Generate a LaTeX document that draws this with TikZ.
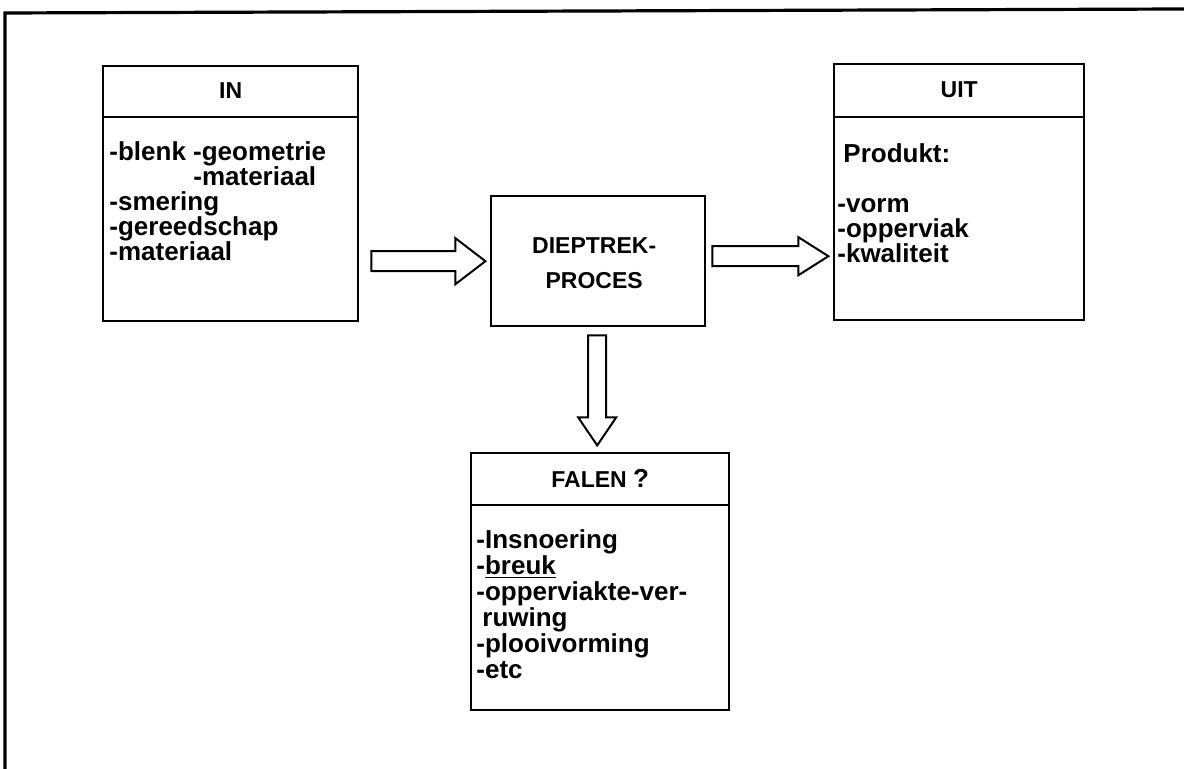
\documentclass[tikz,border=0pt]{standalone}
\usepackage{fontspec}
\setmainfont{Liberation Sans}
\usetikzlibrary{positioning,calc}

\begin{document}
\begin{tikzpicture}[x=0.5pt,y=-0.5pt,
	box/.style={draw, line width=1.2pt, inner sep=0pt, anchor=north west},
	head/.style={font=\fontsize{11.5}{13}\selectfont\bfseries},
	body/.style={font=\fontsize{13}{12.5}\selectfont\bfseries, align=left, anchor=north west, inner sep=0pt}]
	\newcommand\RArrow[2]{+(0,-10) -- +(#1,-10) -- +(#1,-#2) -- +(#1+30,0) -- +(#1,#2) -- +(#1,10) -- +(0,10) -- cycle}
	\newcommand\DArrow[1]{+(-9,0) -- +(-9,#1) -- +(-19,#1) -- +(0,#1+28) -- +(19,#1) -- +(9,#1) -- +(9,0) -- cycle}

	\useasboundingbox (0,0) rectangle (1184,769);
	% outer frame, only top and left
	\draw[line width=1.6pt] (5,769) -- (5,13) -- (1184,9);

	% boxes
	\node[box, minimum width=127.5pt, minimum height=127.5pt] (in) at (102,65) {};
	\node[box, minimum width=107pt, minimum height=65pt] (proc) at (490,195) {};
	\node[box, minimum width=125pt, minimum height=128pt] (uit) at (833,63) {};
	\node[box, minimum width=129pt, minimum height=128.5pt] (falen) at (470,452) {};

	\draw[line width=1.2pt] ($(in.north west)+(0,52)$) -- ($(in.north east)+(0,52)$);
	\draw[line width=1.2pt] ($(uit.north west)+(0,54)$) -- ($(uit.north east)+(0,54)$);
	\draw[line width=1.2pt] ($(falen.north west)+(0,53)$) -- ($(falen.north east)+(0,53)$);

	% headers
	\node[head] (inhead) at ($(in.north)+(0,26)$) {IN};
	\node[head] (uithead) at ($(uit.north)+(0,27)$) {UIT};
	\node[head] (falenhead) at ($(falen.north)+(0,26)$) {FALEN \fontsize{13}{13}\selectfont ?};
	\node[head, align=center, font=\fontsize{11.5}{17.5}\selectfont\bfseries] (proctext) at ($(proc.center)+(-4,2)$) {DIEPTREK-\\PROCES};

	% lists
	\node[body] (inlist) at ($(in.north west)+(7,76)$) {-blenk -geometrie\\\hspace*{42pt}-materiaal\\-smering\\-gereedschap\\-materiaal};
	\node[body] (uitlist) at ($(uit.north west)+(4,80)$) {\hspace*{3pt}Produkt:\\[12.5pt]-vorm\\-opperviak\\-kwaliteit};
	\node[body, font=\fontsize{13}{13}\selectfont\bfseries] (falenlist) at ($(falen.north west)+(6,77)$) {-Insnoering\\-\underline{breuk}\\-opperviakte-ver-\\\hspace*{3pt}ruwing\\-plooivorming\\-etc};

	% block arrows
	\draw[line width=1pt] ($(in.east |- proc.west)+(12,0)$) \RArrow{84}{23};
	\draw[line width=1pt] ($(proc.east)+(6,-5)$) \RArrow{86}{19};
	\draw[line width=1pt] ($(proc.south)+(-1,8)$) \DArrow{82};
\end{tikzpicture}
\end{document}
